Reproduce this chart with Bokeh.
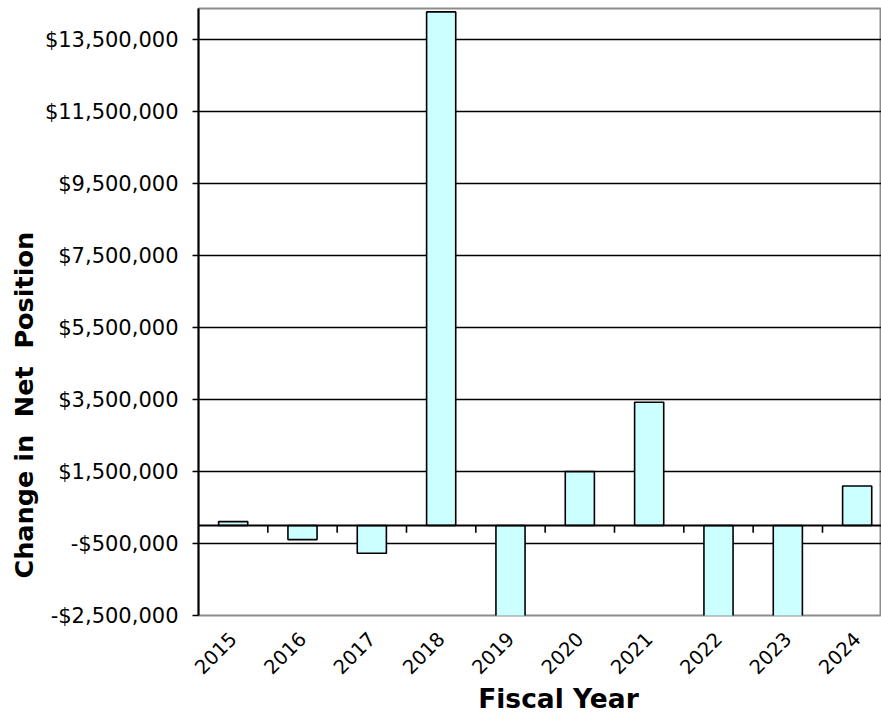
import math
from bokeh.plotting import figure
from bokeh.models import Range1d, FixedTicker, Span, ColumnDataSource, CustomJSTickFormatter, Title
from bokeh.embed import file_html
from bokeh.resources import INLINE

years = ["2015", "2016", "2017", "2018", "2019", "2020", "2021", "2022", "2023", "2024"]
net_change = [110000, -390000, -770000, 14280000, -3000000, 1500000, 3430000, -3500000, -2800000, 1100000]
y_ticks = [-2500000, -500000, 1500000, 3500000, 5500000, 7500000, 9500000, 11500000, 13500000]
y_title = "Change in\u00a0 Net\u00a0 Position"
x_title = "\u00a0\u00a0\u00a0\u00a0Fiscal Year"

x_pos = list(range(len(years)))
src = ColumnDataSource(dict(x=x_pos, top=net_change, year=years))

p = figure(frame_width=683, frame_height=607,
           x_range=Range1d(-0.5, 9.351), y_range=Range1d(-2500000, 14375000),
           output_backend="svg", toolbar_location=None,
           min_border_left=198, min_border_right=0, min_border_top=8, min_border_bottom=100)
p.background_fill_color = "white"
p.outline_line_color = "#8c8c8c"
p.outline_line_width = 2

p.ygrid.ticker = FixedTicker(ticks=y_ticks)
p.ygrid.grid_line_color = "black"
p.ygrid.grid_line_width = 1.6
p.xgrid.visible = False

p.vbar(x="x", top="top", bottom=0, width=0.42, source=src,
       fill_color="#CCFFFF", line_color="black", line_width=1.6)

# zero line with category-boundary ticks
p.add_layout(Span(location=0, dimension="width", line_color="black", line_width=2))
bounds = [i + 0.5 for i in range(len(years) - 1)]
p.segment(x0=bounds, y0=[0] * len(bounds), x1=bounds, y1=[-200000] * len(bounds),
          line_color="black", line_width=1.6)

ya = p.yaxis[0]
ya.ticker = FixedTicker(ticks=y_ticks)
ya.formatter = CustomJSTickFormatter(code="""
const a = Math.abs(tick).toLocaleString('en-US', {maximumFractionDigits: 0});
return (tick < 0 ? '-$' : '$') + a;
""")
ya.axis_line_color = "black"
ya.axis_line_width = 2
ya.major_tick_out = 6
ya.major_tick_in = 0
ya.major_tick_line_width = 1.6
ya.minor_tick_line_color = None
ya.major_label_standoff = 14
ya.major_label_text_font = "DejaVu Sans"
ya.major_label_text_font_size = "21px"
ya.major_label_text_color = "black"

yt = Title(text=y_title, align="left", offset=37, text_font="DejaVu Sans",
           text_font_style="bold", text_font_size="25.5px", text_color="black", standoff=6)
p.add_layout(yt, "left")

xa = p.xaxis[0]
xa.ticker = FixedTicker(ticks=x_pos)
xa.formatter = CustomJSTickFormatter(args=dict(years=years), code="""
const i = Math.round(tick);
return (i >= 0 && i < years.length) ? years[i] : '';
""")
xa.axis_line_color = None
xa.major_tick_line_color = None
xa.major_tick_out = 0
xa.major_tick_in = 0
xa.minor_tick_line_color = None
xa.major_label_orientation = math.pi / 4
xa.major_label_standoff = 20
xa.major_label_text_font = "DejaVu Sans"
xa.major_label_text_font_size = "19.5px"
xa.major_label_text_color = "black"
xa.axis_label = x_title
xa.axis_label_standoff = 0
xa.axis_label_text_font = "DejaVu Sans"
xa.axis_label_text_font_style = "bold"
xa.axis_label_text_font_size = "26.5px"
xa.axis_label_text_color = "black"

open("out.html", "w").write(file_html(p, INLINE))
